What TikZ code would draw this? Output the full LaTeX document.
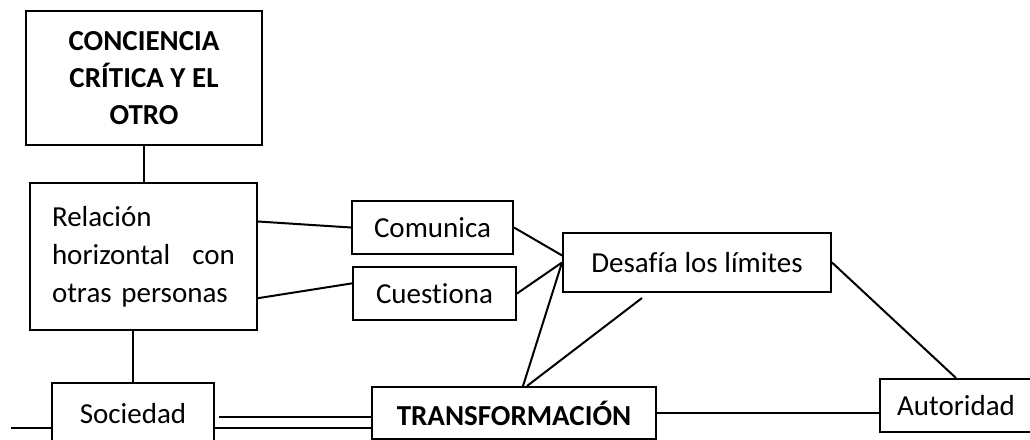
\documentclass[tikz,border=0pt]{standalone}
\usepackage{fontspec}
\setmainfont{Carlito}[Ligatures=NoCommon]
\usetikzlibrary{calc}

\begin{document}
\begin{tikzpicture}[x=1pt,y=-1pt,line width=2pt]
\path [use as bounding box] (0,0) rectangle (1030,439);
\tikzstyle{every node} = [draw, inner sep=0pt, font=\fontsize{29}{38}\selectfont]
\tikzstyle{bold} = [font=\fontsize{29}{37}\selectfont\bfseries]
\node[bold, align=center, minimum width=236pt, minimum height=134pt] (otro) at (144,78) {CONCIENCIA\\CRÍTICA Y EL\\OTRO};
\node[align=left, text width=183pt, minimum width=227pt, minimum height=147pt] (rel) at (143.5,256.5) {Relación\\horizontal\hfill con\\otras personas};
\node[minimum width=161pt, minimum height=53pt] (com) at (432.5,227.5) {Comunica};
\node[minimum width=163pt, minimum height=53pt] (cue) at (434.5,293.5) {Cuestiona};
\node[minimum width=268pt, minimum height=59pt] (des) at (697,262.5) {Desafía los límites};
\node[bold, minimum width=284pt, minimum height=52pt] (trans) at (514,413) {TRANSFORMACIÓN};
\node[minimum width=162pt, minimum height=62pt] (soc) at (133,414) {Sociedad};
\node[minimum width=152pt, minimum height=53pt] (aut) at (956,405.5) {Autoridad};
\coordinate (stub) at (11,428);
\draw (otro.south) -- (otro.south |- rel.north);
\draw (rel.17) -- (com.west);
\draw (rel.-20) -- (cue.173);
\draw (com.east) -- (des.177);
\draw (cue.east) -- (des.west);
\draw (des.west) -- ([xshift=9pt]trans.north);
\draw ([xshift=-55pt,yshift=-5pt]des.south) -- ([xshift=13pt]trans.north);
\draw (des.east) -- (aut.north);
\draw (trans.east) -- (trans.east -| aut.west);
\draw (soc.north |- rel.south) -- (soc.north);
\draw (stub) -- (stub -| soc.west);
\draw ([shift={(4pt,-3pt)}]soc.east) -- ([yshift=-3pt]soc.east -| trans.west);
\draw ([yshift=-14pt]soc.east) -- ([yshift=-14pt]soc.east -| trans.west);
\end{tikzpicture}
\end{document}
